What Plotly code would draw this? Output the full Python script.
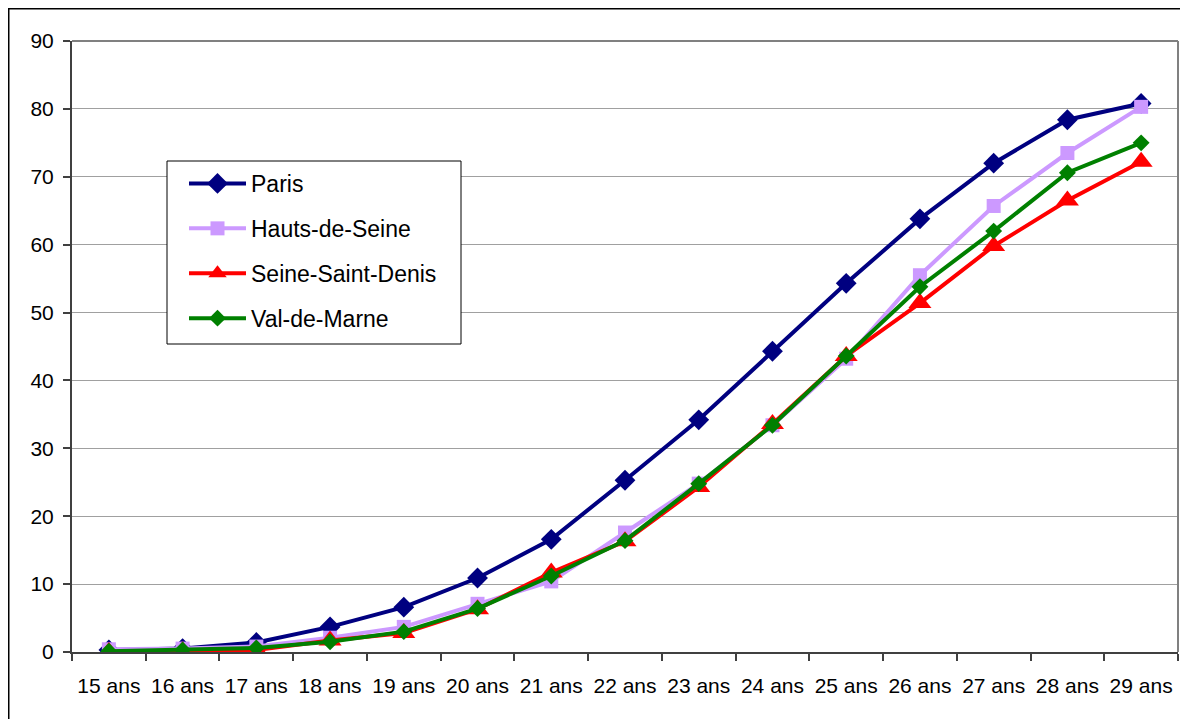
import plotly.graph_objects as go

categories = ["15 ans", "16 ans", "17 ans", "18 ans", "19 ans", "20 ans", "21 ans", "22 ans",
              "23 ans", "24 ans", "25 ans", "26 ans", "27 ans", "28 ans", "29 ans"]
paris = [0.3, 0.5, 1.4, 3.7, 6.6, 10.9, 16.6, 25.3, 34.2, 44.3, 54.3, 63.8, 72.0, 78.4, 80.8]
hauts_de_seine = [0.4, 0.5, 0.8, 2.1, 3.7, 7.1, 10.4, 17.6, 24.8, 33.4, 43.2, 55.5, 65.7, 73.5, 80.3]
seine_saint_denis = [0.0, 0.1, 0.3, 1.7, 2.8, 6.3, 11.7, 16.3, 24.3, 33.6, 43.6, 51.4, 59.8, 66.5, 72.2]
val_de_marne = [0.1, 0.3, 0.6, 1.5, 3.0, 6.4, 11.2, 16.4, 24.8, 33.4, 43.6, 53.8, 62.0, 70.6, 75.0]
y_ticks = [0, 10, 20, 30, 40, 50, 60, 70, 80, 90]

series = [
    ("Paris", paris, "#000080", "diamond", 16),
    ("Hauts-de-Seine", hauts_de_seine, "#CC99FF", "square", 14),
    ("Seine-Saint-Denis", seine_saint_denis, "#FF0000", "triangle-up", 20),
    ("Val-de-Marne", val_de_marne, "#008000", "diamond", 13),
]

FONT = "Liberation Sans, Arial, sans-serif"

# page body has an 8px margin: figure is sized to fit the window inside it
W, H = 1172, 711
OFF = 8
PL, PT, PW, PH = 72, 41, 1106, 611  # plot area in page pixels


def px(xp):
    return (xp - PL) / PW


def py(yp):
    return 1 - (yp - PT) / PH


fig = go.Figure()
for name, vals, color, sym, size in series:
    fig.add_trace(go.Scatter(
        x=categories, y=vals, name=name, mode="lines+markers",
        line=dict(color=color, width=4),
        marker=dict(symbol=sym, size=size, color=color, line=dict(width=0)),
        legendgroup=name,
    ))

fig.update_layout(
    width=W, height=H,
    margin=dict(l=PL - OFF, r=W - (PL - OFF) - PW, t=PT - OFF, b=H - (PT - OFF) - PH,
                autoexpand=False, pad=0),
    paper_bgcolor="white", plot_bgcolor="white",
    font=dict(family=FONT, size=21, color="black"),
    showlegend=True,
    legend=dict(
        x=px(184), y=py(162), xanchor="left", yanchor="top",
        bgcolor="rgba(0,0,0,0)", borderwidth=0,
        font=dict(family=FONT, size=23, color="black"),
        traceorder="grouped", tracegroupgap=12, itemwidth=57,
    ),
    xaxis=dict(
        type="category", range=[-0.5, len(categories) - 0.5],
        tickson="boundaries", ticks="outside", ticklen=7,
        tickcolor="#404040", tickwidth=2, tickangle=0, automargin=False,
        showline=True, linecolor="#404040", linewidth=2, mirror=False,
        showgrid=False, ticklabelstandoff=14,
        tickfont=dict(family=FONT, size=21, color="black"),
    ),
    yaxis=dict(
        range=[0, 90], tickvals=y_ticks, ticks="outside", ticklen=7,
        tickcolor="#404040", tickwidth=2, automargin=False,
        showline=True, linecolor="#404040", linewidth=2,
        showgrid=True, gridcolor="#A0A0A0", gridwidth=1,
        zeroline=False, ticklabelstandoff=5,
        tickfont=dict(family=FONT, size=21, color="black"),
    ),
    shapes=[
        dict(type="line", xref="paper", yref="paper", x0=0, x1=1, y0=1, y1=1,
             line=dict(color="#808080", width=2)),
        dict(type="line", xref="paper", yref="paper", x0=1, x1=1, y0=0, y1=1,
             line=dict(color="#808080", width=2)),
        # outer chart frame (left / top edges visible)
        dict(type="rect", xref="paper", yref="paper",
             x0=px(OFF + 0.75), x1=1.2, y0=-0.3, y1=py(OFF + 0.75),
             line=dict(color="black", width=1.5)),
        # legend frame
        dict(type="rect", xref="paper", yref="paper", layer="above",
             x0=px(167), x1=px(461), y0=py(344), y1=py(161),
             fillcolor="white", line=dict(color="black", width=1)),
    ],
)

fig.write_html("out.html")
